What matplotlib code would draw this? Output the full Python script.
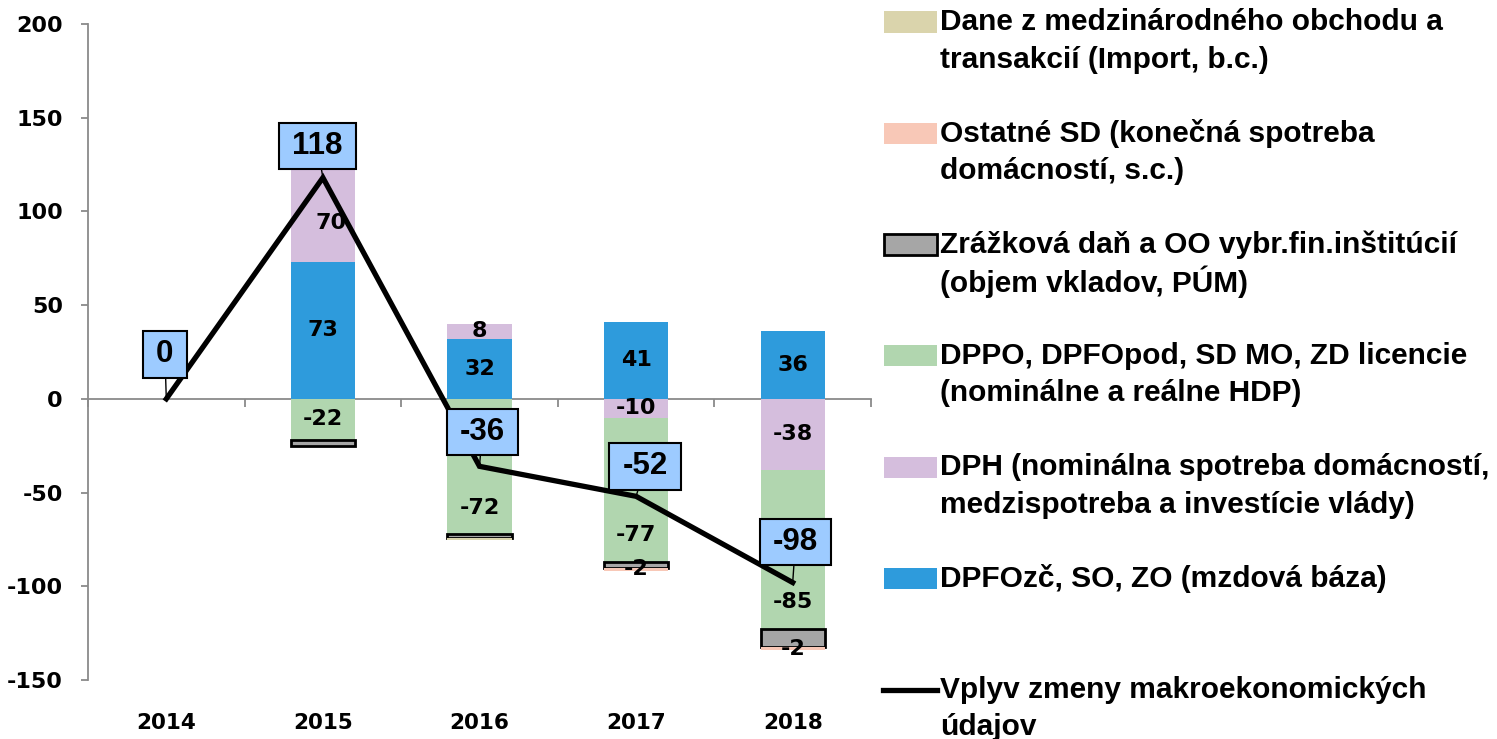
import numpy as np
import matplotlib
matplotlib.use('Agg')
import matplotlib.pyplot as plt
from matplotlib.patches import Rectangle
from matplotlib.lines import Line2D
from matplotlib.path import Path

YEARS = ['2014', '2015', '2016', '2017', '2018']

# stacked components (mil. eur)
DPFO_ZC = [0, 73, 32, 41, 36]
DPH = [0, 70, 8, -10, -38]
DPPO = [0, -22, -72, -77, -85]
ZRAZKOVA = [0, -3, -2.5, -3, -9.5]
OSTATNE_SD = [0, 0, 0, -2, -1.5]
DANE_OBCHOD = [0, 0, -1, 0, 0]

# total impact line
VPLYV = [0, 118, -36, -52, -98]

DPFO_LABELS = ['', '73', '32', '41', '36']
DPH_LABELS = ['', '70', '8', '-10', '-38']
DPPO_LABELS = ['', '-22', '-72', '-77', '-85']
OSTATNE_LABELS = ['', '', '', '-2', '-2']

# labels moved off the line (shift in value units from segment centre)
DPH_SHIFT = [0, -14, 0, 0, 0]
DPPO_SHIFT = [0, 0, -22, -24, -28]

BLUE = '#2E9BDC'
PURPLE = '#D5BEDD'
GREEN = '#B1D6AF'
GRAY = '#A6A6A6'
PINK = '#F8C8B7'
TAN = '#DAD4AC'
BOX = '#9DCBFF'
AXIS = '#8A8A8A'

W, H = 1497, 739

plt.rcParams['font.family'] = 'DejaVu Sans'
plt.rcParams['font.weight'] = 'bold'
plt.rcParams['axes.unicode_minus'] = False


def label_box(x0, y0, width, height, mutation_size):
    # wider than tall padding, like the boxes in the source chart
    px = 0.42 * mutation_size
    py = 0.26 * mutation_size
    verts = [(x0 - px, y0 - py), (x0 + width + px, y0 - py),
             (x0 + width + px, y0 + height + py), (x0 - px, y0 + height + py),
             (x0 - px, y0 - py)]
    return Path(verts, closed=True)


fig = plt.figure(figsize=(W / 100, H / 100), dpi=100)
ax = fig.add_axes([88 / W, 1 - 680 / H, (871 - 88) / W, (680 - 24) / H])

x = np.arange(len(YEARS))
width = 0.41

series = [
    (DPFO_ZC, BLUE, None, DPFO_LABELS, None),
    (DPH, PURPLE, None, DPH_LABELS, DPH_SHIFT),
    (DPPO, GREEN, None, DPPO_LABELS, DPPO_SHIFT),
    (ZRAZKOVA, GRAY, 'black', None, None),
    (OSTATNE_SD, PINK, None, OSTATNE_LABELS, None),
    (DANE_OBCHOD, TAN, None, None, None),
]

pos_base = np.zeros(len(x))
neg_base = np.zeros(len(x))
for vals, color, edge, labels, shift in series:
    vals = np.array(vals, dtype=float)
    bottoms = np.where(vals >= 0, pos_base, neg_base)
    mask = vals != 0
    ax.bar(x[mask], vals[mask], width, bottom=bottoms[mask], color=color,
           edgecolor=edge if edge else color, linewidth=2 if edge else 0,
           zorder=2)
    if labels:
        for i, lab in enumerate(labels):
            if lab:
                ypos = bottoms[i] + vals[i] / 2 + (shift[i] if shift else 0)
                xpos = x[i] + (0.05 if shift and shift[i] and vals[i] > 0 else 0)
                ax.text(xpos, ypos, lab, ha='center', va='center',
                        fontsize=16, fontweight='bold', zorder=3)
    pos_base += np.where(vals > 0, vals, 0)
    neg_base += np.where(vals < 0, vals, 0)

ax.plot(x, VPLYV, color='black', lw=3.8, zorder=4, solid_joinstyle='miter')

offsets = [(-1, 32), (-4, 23), (2, 24.5), (6.5, 21.5), (2, 29)]
for i, v in enumerate(VPLYV):
    ax.annotate(str(v), (x[i], v), xytext=offsets[i], textcoords='offset points',
                ha='center', va='center', fontsize=22.5, fontweight='bold',
                family='Liberation Sans',
                bbox=dict(boxstyle=label_box, fc=BOX, ec='black', lw=1.5),
                arrowprops=dict(arrowstyle='-', color='black', lw=1,
                                shrinkA=0, shrinkB=0),
                zorder=6)

ax.set_xlim(-0.5, 4.5)
ax.set_ylim(-150, 200)
ax.set_yticks(range(-150, 201, 50))

for side in ['top', 'right']:
    ax.spines[side].set_visible(False)
ax.spines['left'].set_color(AXIS)
ax.spines['left'].set_linewidth(1.3)
ax.spines['bottom'].set_position(('data', 0))
ax.spines['bottom'].set_color(AXIS)
ax.spines['bottom'].set_linewidth(1.3)
ax.spines['bottom'].set_zorder(1)

ax.set_xticks(np.arange(-0.5, 5, 1))
ax.set_xticklabels([])
ax.tick_params(axis='x', direction='out', length=6, width=1.3, color=AXIS)
ax.tick_params(axis='y', direction='out', length=5, width=1.3, color=AXIS,
               pad=13, labelsize=16)

sec = ax.secondary_xaxis('bottom')
sec.set_xticks(x)
sec.set_xticklabels(YEARS, fontsize=15.5, fontweight='bold')
sec.tick_params(length=0, pad=24)
sec.spines['bottom'].set_visible(False)

# legend drawn at the right side
legend_items = [
    ('patch', TAN, None, ['Dane z medzinárodného obchodu a', 'transakcií (Import, b.c.)']),
    ('patch', PINK, None, ['Ostatné SD (konečná spotreba', 'domácností, s.c.)']),
    ('patch', GRAY, 'black', ['Zrážková daň a OO vybr.fin.inštitúcií', '(objem vkladov, PÚM)']),
    ('patch', GREEN, None, ['DPPO, DPFOpod, SD MO, ZD licencie', '(nominálne a reálne HDP)']),
    ('patch', PURPLE, None, ['DPH (nominálna spotreba domácností,', 'medzispotreba a investície vlády)']),
    ('patch', BLUE, None, ['DPFOzč, SO, ZO (mzdová báza)']),
    ('line', 'black', None, ['Vplyv zmeny makroekonomických', 'údajov']),
]
for k, (kind, color, edge, lines) in enumerate(legend_items):
    yc = 22 + 111.3 * k
    if kind == 'patch':
        fig.add_artist(Rectangle((884 / W, 1 - (yc + 10.5) / H), 53 / W, 21 / H,
                                 transform=fig.transFigure, facecolor=color,
                                 edgecolor=edge if edge else color,
                                 linewidth=2 if edge else 0))
    else:
        fig.add_artist(Line2D([883 / W, 937 / W], [1 - yc / H] * 2,
                              transform=fig.transFigure, color=color, lw=3.8))
    for j, line in enumerate(lines):
        fig.text(940 / W, 1 - (yc + 37.5 * j) / H, line, ha='left', va='center',
                 fontsize=21.5, fontweight='bold', family='Liberation Sans')

fig.savefig('out.png', dpi=100)
